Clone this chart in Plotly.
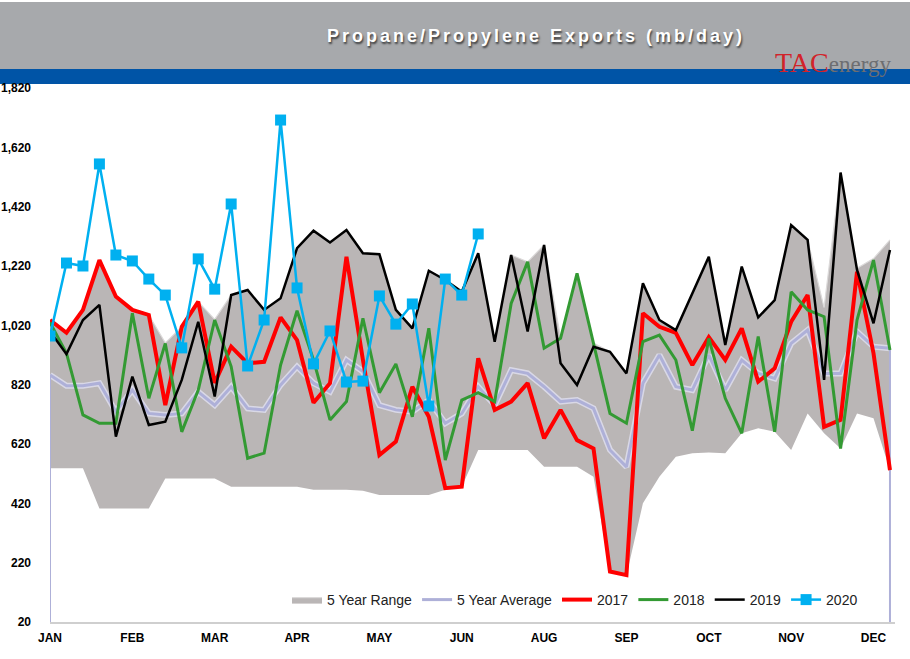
import plotly.graph_objects as go

# ---------------- data ----------------
weeks = list(range(1, 53))
tick_weeks = [1, 6, 11, 16, 21, 26, 31, 36, 41, 46, 51]
tick_labels = ["JAN", "FEB", "MAR", "APR", "MAY", "JUN", "AUG", "SEP", "OCT", "NOV", "DEC"]
y_ticks = [20, 220, 420, 620, 820, 1020, 1220, 1420, 1620, 1820]

range_upper = [1040, 995, 1072, 1240, 1117, 1072, 1055, 961, 1015, 1100,
               1040, 1122, 1139, 1072, 1111, 1280, 1339, 1299, 1341, 1263,
               1260, 1072, 1010, 1204, 1173, 1133, 1263, 965, 1257, 1234,
               1291, 978, 1195, 960, 931, 858, 1162, 1038, 1004, 1128,
               1251, 954, 1218, 1047, 1105, 1358, 1308, 1080, 1535, 1212,
               1245, 1308]
range_lower = [538, 538, 538, 403, 403, 403, 403, 504, 504, 504,
               504, 476, 476, 476, 476, 476, 466, 466, 466, 462,
               448, 448, 448, 448, 466, 476, 600, 600, 600, 600,
               543, 543, 543, 510, 190, 178, 420, 510, 577, 589,
               591, 589, 656, 673, 661, 600, 723, 656, 605, 723,
               707, 532]
avg5 = [853, 816, 816, 825, 729, 802, 723, 718, 723, 796,
        751, 813, 740, 735, 819, 881, 825, 796, 903, 864,
        751, 735, 729, 768, 690, 723, 813, 751, 869, 858,
        813, 763, 768, 740, 600, 543, 825, 920, 813, 802,
        920, 802, 903, 858, 841, 959, 1004, 858, 858, 999,
        948, 943]
y2017 = [1038, 995, 1072, 1240, 1117, 1072, 1055, 751, 1015, 1100,
         826, 948, 892, 897, 1047, 970, 759, 825, 1251, 903,
         583, 628, 813, 712, 471, 476, 909, 735, 763, 825,
         639, 735, 633, 605, 190, 178, 1061, 1015, 995, 886,
         980, 903, 1010, 830, 875, 1032, 1122, 678, 701, 1201,
         926, 532]
y2018 = [1030, 926, 718, 690, 690, 1061, 774, 959, 661, 802,
         1038, 881, 572, 589, 886, 1069, 903, 701, 763, 1044,
         793, 890, 712, 1010, 566, 768, 793, 763, 1094, 1234,
         943, 976, 1195, 959, 723, 690, 965, 987, 903, 665,
         976, 774, 656, 982, 661, 1133, 1072, 1049, 605, 1038,
         1240, 937]
y2019 = [1000, 923, 1038, 1089, 645, 847, 684, 695, 836, 1032,
         780, 1122, 1139, 1072, 1111, 1280, 1339, 1299, 1341, 1263,
         1260, 1072, 1010, 1204, 1173, 1133, 1263, 965, 1257, 999,
         1291, 892, 819, 948, 931, 858, 1162, 1038, 1004, 1128,
         1251, 954, 1218, 1047, 1105, 1358, 1308, 836, 1535, 1207,
         1027, 1274]
y2020 = [984, 1230, 1220, 1564, 1257, 1237, 1176, 1122, 944, 1244,
         1142, 1429, 883, 1038, 1712, 1146, 890, 1001, 829, 832,
         1119, 1024, 1092, 748, 1176, 1122, 1328]

Y_MIN, Y_MAX = 20, 1820

# ---------------- layout geometry ----------------
W, H = 910, 659
ML, MR, MT, MB = 50, 15, 88, 37
PW, PH = W - ML - MR, H - MT - MB


def px(x):
    return (x - ML) / PW


def py(y):
    return (H - MB - y) / PH


AVG_COLOR = "rgb(174,176,216)"

fig = go.Figure()

fig.add_trace(go.Scatter(x=weeks, y=range_lower, mode="lines",
                         line=dict(width=0, color="rgba(0,0,0,0)"),
                         showlegend=False, hoverinfo="skip"))
fig.add_trace(go.Scatter(x=weeks, y=range_upper, mode="lines", name="5 Year Range",
                         fill="tonexty", fillcolor="rgb(186,182,182)",
                         line=dict(width=1.2, color="rgb(220,218,218)")))
# soft halo under the 5-year average line
fig.add_trace(go.Scatter(x=weeks, y=avg5, mode="lines",
                         line=dict(width=6, color="rgba(222,222,238,0.85)"),
                         showlegend=False, hoverinfo="skip"))
fig.add_trace(go.Scatter(x=weeks, y=avg5, mode="lines", name="5 Year Average",
                         line=dict(width=3, color=AVG_COLOR)))
fig.add_trace(go.Scatter(x=[weeks[0], weeks[0]], y=[Y_MIN, avg5[0]], mode="lines",
                         line=dict(width=2, color=AVG_COLOR),
                         showlegend=False, hoverinfo="skip"))
fig.add_trace(go.Scatter(x=[weeks[-1], weeks[-1]], y=[Y_MIN, avg5[-1]], mode="lines",
                         line=dict(width=2, color=AVG_COLOR),
                         showlegend=False, hoverinfo="skip"))
fig.add_trace(go.Scatter(x=weeks, y=y2017, mode="lines", name="2017",
                         line=dict(width=4, color="#ff0000")))
fig.add_trace(go.Scatter(x=weeks, y=y2018, mode="lines", name="2018",
                         line=dict(width=3, color="#339a33")))
fig.add_trace(go.Scatter(x=weeks, y=y2019, mode="lines", name="2019",
                         line=dict(width=2.5, color="#000000")))
fig.add_trace(go.Scatter(x=weeks[:len(y2020)], y=y2020, mode="lines+markers", name="2020",
                         line=dict(width=2.5, color="#00b0f0"),
                         marker=dict(symbol="square", size=11, color="#00b0f0")))

tickfont = dict(family="Liberation Sans, Arial, sans-serif", size=12, color="#000000", weight="bold")

fig.update_layout(
    width=W, height=H,
    margin=dict(l=ML, r=MR, t=MT, b=MB, autoexpand=False),
    paper_bgcolor="white", plot_bgcolor="white",
    xaxis=dict(range=[1, 1 + PW / 16.47], tickmode="array", tickvals=tick_weeks,
               ticktext=tick_labels, showgrid=False, zeroline=False, automargin=False,
               showline=True, linecolor="#cfcfcf", linewidth=2,
               ticks="", tickfont=tickfont, ticklabelstandoff=4),
    yaxis=dict(range=[Y_MIN, Y_MAX], tickmode="array", tickvals=y_ticks, automargin=False,
               tickformat=",", showgrid=False, zeroline=False, showline=False,
               ticks="", tickfont=tickfont, ticklabelstandoff=18),
    legend=dict(orientation="h", x=px(287), y=py(600), xanchor="left", yanchor="middle",
                traceorder="normal",
                bgcolor="rgba(0,0,0,0)", font=dict(family="Liberation Sans, Arial, sans-serif",
                                                  size=14, color="#222222"),
                itemwidth=30, tracegroupgap=0),
    shapes=[
        dict(type="rect", xref="paper", yref="paper", x0=px(0), x1=px(W), y0=py(69), y1=py(2),
             fillcolor="#a7a9ac", line=dict(width=0), layer="below"),
        dict(type="rect", xref="paper", yref="paper", x0=px(0), x1=px(W), y0=py(84), y1=py(69),
             fillcolor="#0054a6", line=dict(width=0), layer="below"),
    ],
    annotations=[
        dict(text="<span style='letter-spacing:3px'>Propane/Propylene Exports (mb/day)</span>",
             xref="paper", yref="paper",
             x=px(536), y=py(36), xanchor="center", yanchor="middle", showarrow=False,
             font=dict(family="Liberation Sans, Arial, sans-serif", size=18, color="white",
                       weight="bold", shadow="1px 2px 2px rgba(0,0,0,0.65)")),
        dict(text="<span style='color:#d2232a;font-size:28px'>TAC</span>"
                  "<span style='color:#6d6e71;font-size:23px'>energy</span>",
             xref="paper", yref="paper", x=px(893), y=py(62), xanchor="right", yanchor="middle",
             showarrow=False, font=dict(family="Liberation Serif, Times New Roman, serif", size=23)),
    ],
)

fig.write_html("out.html", config={"displayModeBar": False},
               post_script="document.body.style.margin='0';")
